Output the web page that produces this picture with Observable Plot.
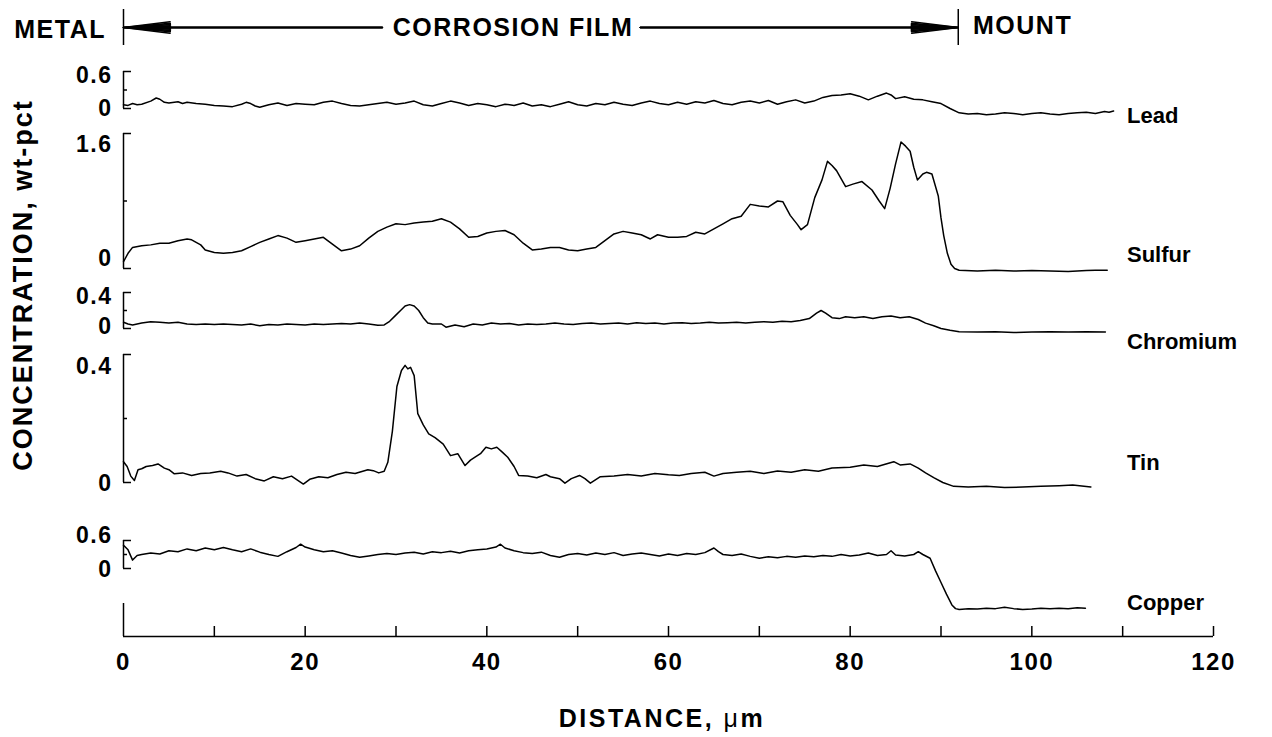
<!DOCTYPE html>
<html><head><meta charset="utf-8">
<script src="https://cdn.jsdelivr.net/npm/d3@7"></script>
<script src="https://cdn.jsdelivr.net/npm/@observablehq/plot@0.6"></script>
<style>
html,body{margin:0;padding:0;overflow:hidden;background:#fff;}
#chart{position:relative;width:1272px;height:737px;font-family:"Liberation Sans",Arial,Helvetica,sans-serif;font-weight:bold;color:#000;}
#chart svg{position:absolute;left:0;top:0;}
#chart svg text{letter-spacing:1.5px;}
.lbl{position:absolute;white-space:nowrap;font-size:22px;line-height:1;}
.hdr{font-size:25px;letter-spacing:1.5px;}
</style></head><body><div id="chart"></div>
<script>
// ---- data (distance in µm, concentration in wt-pct) ----
const lead = [[0,0.06],[0.5,0.05],[1,0.08],[1.5,0.06],[2,0.07],[3,0.12],[3.6,0.17],[4,0.15],[4.5,0.10],[5,0.09],[6,0.11],[6.5,0.08],[7,0.10],[8,0.08],[9,0.07],[10,0.05],[11,0.04],[12,0.03],[13,0.07],[13.5,0.10],[14,0.08],[14.5,0.04],[15,0.02],[16,0.06],[17,0.09],[18,0.05],[19,0.08],[20,0.07],[21,0.06],[22,0.10],[23,0.12],[24,0.08],[25,0.05],[26,0.04],[27,0.06],[28,0.08],[29,0.10],[30,0.07],[31,0.09],[32,0.12],[33,0.06],[34,0.04],[35,0.08],[36,0.12],[37,0.09],[38,0.05],[39,0.08],[40,0.06],[41,0.03],[42,0.07],[43,0.05],[44,0.09],[45,0.04],[46,0.06],[47,0.03],[48,0.07],[49,0.11],[50,0.06],[51,0.04],[52,0.08],[53,0.06],[54,0.10],[55,0.07],[56,0.05],[57,0.09],[58,0.12],[59,0.08],[60,0.06],[61,0.10],[62,0.07],[63,0.11],[64,0.09],[65,0.13],[66,0.08],[67,0.06],[68,0.10],[69,0.12],[70,0.09],[71,0.13],[72,0.07],[73,0.11],[74,0.14],[75,0.09],[76,0.12],[77,0.18],[78,0.21],[79,0.22],[80,0.24],[81,0.20],[82,0.14],[83,0.20],[84,0.25],[84.5,0.22],[85,0.16],[86,0.19],[87,0.15],[88,0.14],[89,0.11],[90,0.08],[91,0.0],[92,-0.07],[93,-0.09],[94,-0.08],[95,-0.10],[96,-0.09],[97,-0.07],[98,-0.08],[99,-0.10],[100,-0.08],[101,-0.07],[102,-0.09],[103,-0.10],[104,-0.08],[105,-0.07],[106,-0.06],[107,-0.08],[108,-0.05],[108.5,-0.06],[109,-0.04]];

const sulfur = [[0,0.08],[0.5,0.18],[1,0.25],[2,0.27],[3,0.28],[4,0.30],[5,0.30],[6,0.33],[7,0.35],[7.5,0.34],[8,0.31],[8.5,0.28],[9,0.22],[10,0.19],[11,0.18],[12,0.19],[13,0.21],[14,0.26],[15,0.31],[16,0.35],[17,0.39],[18,0.36],[19,0.31],[20,0.33],[21,0.35],[22,0.37],[23,0.29],[24,0.21],[25,0.23],[26,0.27],[27,0.36],[28,0.44],[29,0.49],[30,0.53],[31,0.52],[32,0.54],[33,0.55],[34,0.56],[35,0.59],[36,0.55],[37,0.47],[38,0.37],[39,0.38],[40,0.42],[41,0.44],[42,0.45],[43,0.40],[44,0.30],[45,0.22],[46,0.23],[47,0.25],[48,0.25],[49,0.22],[50,0.21],[51,0.23],[52,0.25],[53,0.33],[54,0.41],[55,0.44],[56,0.42],[57,0.40],[58,0.35],[58.8,0.40],[60,0.37],[61,0.37],[62,0.38],[63,0.43],[64,0.41],[65,0.47],[66,0.53],[67,0.59],[68,0.62],[69,0.76],[70,0.74],[71,0.73],[72,0.80],[72.6,0.79],[73.4,0.63],[74.2,0.52],[74.6,0.46],[75.3,0.52],[76.1,0.84],[76.9,1.05],[77.5,1.27],[78,1.22],[78.5,1.16],[79.5,0.97],[80.3,1.00],[81.3,1.03],[82.4,0.93],[83.2,0.80],[83.8,0.71],[84.4,0.95],[85,1.24],[85.6,1.50],[86.1,1.45],[86.6,1.39],[87,1.20],[87.4,1.05],[88,1.12],[88.4,1.14],[89,1.12],[89.7,0.86],[90,0.60],[90.3,0.39],[90.7,0.18],[91.1,0.05],[91.5,0.0],[92,-0.02],[94,-0.03],[96,-0.02],[98,-0.03],[100,-0.025],[102,-0.03],[104,-0.035],[105,-0.03],[106,-0.025],[107,-0.02],[108.3,-0.02]];

const chromium = [[0,0.07],[0.5,0.05],[1,0.04],[2,0.06],[3,0.075],[4,0.07],[5,0.06],[6,0.07],[7,0.05],[8,0.045],[9,0.05],[10,0.045],[11,0.05],[12,0.045],[13,0.04],[14,0.05],[15,0.03],[16,0.045],[17,0.04],[18,0.05],[19,0.045],[20,0.04],[21,0.05],[22,0.045],[23,0.05],[24,0.055],[25,0.05],[26,0.06],[27,0.05],[28,0.035],[28.7,0.04],[29.3,0.08],[29.9,0.14],[30.5,0.20],[31,0.25],[31.5,0.265],[32,0.25],[32.5,0.20],[33,0.12],[33.5,0.06],[34,0.05],[35,0.05],[35.5,0.015],[36.5,0.04],[37.5,0.02],[38.5,0.05],[39.5,0.04],[40.5,0.06],[41.5,0.05],[42.5,0.055],[43.5,0.04],[44.5,0.05],[45.5,0.045],[46.5,0.05],[47.5,0.06],[48.5,0.05],[49.5,0.045],[50.5,0.055],[51.5,0.06],[52.5,0.05],[53.5,0.055],[54.5,0.06],[55.5,0.05],[56.5,0.065],[57.5,0.055],[58.5,0.06],[59.5,0.05],[60.5,0.06],[61.5,0.065],[62.5,0.055],[63.5,0.06],[64.5,0.07],[65.5,0.06],[66.5,0.065],[67.5,0.07],[68.5,0.06],[69.5,0.07],[70.5,0.075],[71.5,0.07],[72.5,0.08],[73.5,0.075],[74.5,0.09],[75.5,0.11],[76.3,0.17],[76.8,0.20],[77.3,0.17],[78,0.12],[78.8,0.11],[79.5,0.13],[80.5,0.12],[81.5,0.13],[82.5,0.11],[83.5,0.13],[84.5,0.14],[85.5,0.12],[86.5,0.13],[87.5,0.10],[88.3,0.06],[89.2,0.03],[90,0.0],[91,-0.02],[92,-0.035],[94,-0.04],[96,-0.035],[98,-0.045],[100,-0.04],[102,-0.035],[104,-0.04],[106,-0.035],[108.1,-0.04]];

const tin = [[0,0.065],[0.4,0.05],[0.8,0.02],[1.2,0.006],[1.6,0.04],[2,0.043],[2.5,0.05],[3.2,0.053],[3.8,0.058],[4.5,0.045],[5,0.04],[5.6,0.027],[6.5,0.03],[7.5,0.022],[8.5,0.028],[9.5,0.03],[10.7,0.035],[11.5,0.03],[12.5,0.02],[13.5,0.025],[14.5,0.012],[15.5,0.005],[16.5,0.018],[17.5,0.012],[18.5,0.02],[19.8,-0.005],[20.5,0.01],[21.5,0.018],[22.5,0.015],[23.5,0.025],[24.5,0.032],[25.5,0.028],[26.9,0.04],[27.5,0.037],[28.1,0.03],[28.7,0.035],[29.1,0.063],[29.6,0.16],[30.1,0.30],[30.6,0.35],[31,0.366],[31.3,0.355],[31.6,0.36],[32,0.334],[32.4,0.215],[33,0.18],[33.6,0.152],[34.3,0.14],[35.2,0.12],[36,0.084],[36.8,0.09],[37.6,0.053],[38.2,0.07],[38.7,0.079],[39.3,0.09],[39.9,0.11],[40.5,0.105],[41.1,0.11],[41.7,0.095],[42.3,0.079],[43,0.05],[43.5,0.022],[44.5,0.02],[45.5,0.015],[46.5,0.025],[47,0.018],[48,0.012],[48.6,-0.002],[49.3,0.012],[50.2,0.022],[50.8,0.012],[51.4,-0.002],[52.5,0.018],[54,0.02],[55.5,0.025],[57,0.02],[58.5,0.028],[60,0.024],[61.2,0.022],[62.5,0.028],[64,0.032],[65,0.02],[66,0.028],[67.5,0.032],[69,0.035],[70.5,0.028],[72,0.036],[73.5,0.032],[75,0.04],[76.5,0.035],[78,0.045],[80,0.048],[81.5,0.055],[83,0.05],[84.8,0.065],[85.5,0.055],[86.6,0.058],[87.5,0.045],[88.3,0.03],[89.2,0.015],[90.2,0.0],[91.4,-0.012],[93,-0.014],[95,-0.012],[97,-0.016],[99,-0.014],[101,-0.012],[103,-0.01],[104.5,-0.008],[106.5,-0.014]];

const copper = [[0,0.50],[0.5,0.40],[1,0.18],[1.5,0.28],[2,0.30],[3,0.33],[4,0.31],[5,0.38],[6,0.36],[7,0.42],[8,0.38],[9,0.44],[10,0.40],[11,0.45],[12,0.40],[13,0.36],[14,0.42],[15,0.35],[16,0.30],[17,0.26],[18,0.36],[19,0.45],[19.5,0.52],[20,0.46],[21,0.40],[22,0.36],[23,0.38],[24,0.33],[25,0.28],[26,0.24],[27,0.27],[28,0.30],[29,0.32],[30,0.30],[31,0.33],[32,0.35],[33,0.31],[34,0.36],[35,0.34],[36,0.37],[37,0.33],[38,0.38],[39,0.40],[40,0.42],[41,0.46],[41.5,0.52],[42,0.44],[43,0.38],[44,0.34],[45,0.32],[46,0.35],[47,0.28],[48,0.24],[49,0.30],[50,0.32],[51,0.29],[52,0.33],[53,0.30],[54,0.34],[55,0.28],[56,0.31],[57,0.33],[58,0.30],[59,0.27],[60,0.31],[61,0.28],[62,0.32],[63,0.30],[64,0.34],[65,0.44],[65.5,0.36],[66,0.30],[67,0.28],[68,0.31],[69,0.26],[70,0.22],[71,0.25],[72,0.23],[73,0.26],[74,0.24],[75,0.27],[76,0.25],[77,0.28],[78,0.26],[79,0.30],[80,0.27],[81,0.29],[82,0.33],[83,0.28],[84,0.30],[84.5,0.38],[85,0.29],[86,0.27],[87,0.30],[87.5,0.36],[88,0.30],[88.8,0.22],[89.4,-0.05],[90,-0.30],[90.6,-0.55],[91.2,-0.78],[91.6,-0.86],[92,-0.88],[93,-0.86],[94,-0.87],[95,-0.85],[96,-0.86],[97,-0.83],[98,-0.86],[99,-0.88],[100,-0.87],[101,-0.85],[102,-0.86],[103,-0.85],[104,-0.86],[105,-0.84],[105.9,-0.85]];

// axis tick values
const leadTicks = [0, 0.6], leadMinor = [0.3];
const sulfurTicks = [0, 1.6], sulfurMinor = [0.8];
const chromiumTicks = [0, 0.4], chromiumMinor = [0.2];
const tinTicks = [0, 0.4], tinMinor = [0.2];
const copperTicks = [0, 0.6], copperMinor = [0.3];
const xTicks = [0, 20, 40, 60, 80, 100, 120];
const xMinorTicks = [10, 20, 30, 40, 50, 60, 70, 80, 90, 100, 110, 120];
const seriesNames = ["Lead", "Sulfur", "Chromium", "Tin", "Copper"];
const filmEdges = [0, 91.9]; // metal/film and film/mount boundaries, µm

// ---- layout ----
const W = 1272, H = 737, ML = 123, MR = 59;
const FONT = '"Liberation Sans", Arial, Helvetica, sans-serif';
const chart = document.getElementById("chart");
const baseStyle = {background: "transparent", overflow: "visible", fontFamily: FONT, fontWeight: "bold", color: "#000"};
const fmt = d => d === 0 ? "0" : d3.format(".1f")(d);

// labelDy: vertical nudges of the [bottom, top] tick labels, as typeset in the original figure
function panel(data, ticks, minor, pxHi, pxLo, labelDy) {
  const lo = ticks[0], hi = ticks[ticks.length - 1];
  const lab = {tickFormat: fmt, tickSize: 0, tickPadding: 11, label: null, fontSize: 23, fontWeight: "bold", fill: "#000"};
  return Plot.plot({
    width: W, height: H, marginLeft: ML, marginRight: MR,
    marginTop: pxHi, marginBottom: H - pxLo,
    x: {domain: [0, 120], axis: null},
    y: {domain: [lo, hi], axis: null},
    style: baseStyle,
    marks: [
      Plot.ruleX([0], {y1: lo, y2: hi, stroke: "#000", strokeWidth: 1.5}),
      Plot.axisY({ticks, tickSize: 8, dx: 8, fill: "none", label: null, stroke: "#000", strokeWidth: 1.5}),
      Plot.axisY({ticks: minor, tickSize: 4, dx: 4, fill: "none", label: null, stroke: "#000", strokeWidth: 1.5}),
      Plot.axisY({...lab, ticks: [lo], dy: labelDy[0]}),
      Plot.axisY({...lab, ticks: [hi], dy: labelDy[1]}),
      Plot.line(data, {x: d => d[0], y: d => d[1], stroke: "#000", strokeWidth: 1.5})
    ]
  });
}

chart.append(panel(lead, leadTicks, leadMinor, 71, 108, [0, 4]));
chart.append(panel(sulfur, sulfurTicks, sulfurMinor, 133, 268, [-10, 11]));
chart.append(panel(chromium, chromiumTicks, chromiumMinor, 292, 328, [-2, 4]));
chart.append(panel(tin, tinTicks, tinMinor, 354, 482, [1, 12]));
chart.append(panel(copper, copperTicks, copperMinor, 540, 568, [1, -5]));

// bottom distance axis
chart.append(Plot.plot({
  width: W, height: H, marginLeft: ML, marginRight: MR,
  marginTop: 603, marginBottom: H - 636,
  x: {domain: [0, 120], axis: null},
  y: {domain: [0, 1], axis: null},
  style: baseStyle,
  marks: [
    Plot.ruleY([0], {stroke: "#000", strokeWidth: 1.5}),
    Plot.ruleX([0], {stroke: "#000", strokeWidth: 1.5}),
    Plot.axisX({ticks: xMinorTicks, tickSize: 10, dy: -10, fill: "none", label: null, stroke: "#000", strokeWidth: 1.5}),
    Plot.axisX({ticks: xTicks, tickFormat: d => String(d), tickSize: 0, tickPadding: 16, label: null, fontSize: 24, fontWeight: "bold", fill: "#000"})
  ]
}));

// header: metal | corrosion film | mount
const headAngles = [14, 10, 7, 4, 1.5];
const arrows = [{x1: 28.5, x2: filmEdges[0]}, {x1: 56.9, x2: filmEdges[1]}];
chart.append(Plot.plot({
  width: W, height: H, marginLeft: ML, marginRight: MR,
  marginTop: 9, marginBottom: H - 45,
  x: {domain: [0, 120], axis: null},
  y: {domain: [0, 1], axis: null},
  style: baseStyle,
  marks: [
    Plot.ruleX(filmEdges, {stroke: "#000", strokeWidth: 1.5}),
    ...headAngles.map(a => Plot.arrow(arrows, {x1: "x1", x2: "x2", y1: 0.5, y2: 0.5, stroke: "#000", strokeWidth: 1.6, headLength: 44, headAngle: a}))
  ]
}));

// text annotations
function label(text, x, y, cls, anchor) {
  const d = document.createElement("div");
  d.className = "lbl " + (cls || "");
  d.innerHTML = text;
  d.style.left = x + "px";
  d.style.top = y + "px";
  d.style.transform = anchor === "end" ? "translate(-100%,-50%)" : anchor === "middle" ? "translate(-50%,-50%)" : "translate(0,-50%)";
  chart.append(d);
  return d;
}
label("METAL", 106, 29, "hdr", "end");
label("CORROSION FILM", 513, 27, "hdr", "middle");
label("MOUNT", 973, 25, "hdr", "start");

const nameY = [116, 255, 342, 463, 603];
seriesNames.forEach((n, i) => label(n, 1127, nameY[i], "", "start"));

const yl = label("CONCENTRATION, wt-pct", 23, 285, "", "middle");
yl.style.fontSize = "27px";
yl.style.letterSpacing = "2px";
yl.style.transform = "translate(-50%,-50%) rotate(-90deg)";

const xl = label('DISTANCE, <span style="font-weight:normal">μ</span>m', 662, 718, "", "middle");
xl.style.fontSize = "25px";
xl.style.letterSpacing = "2.5px";
</script></body></html>
